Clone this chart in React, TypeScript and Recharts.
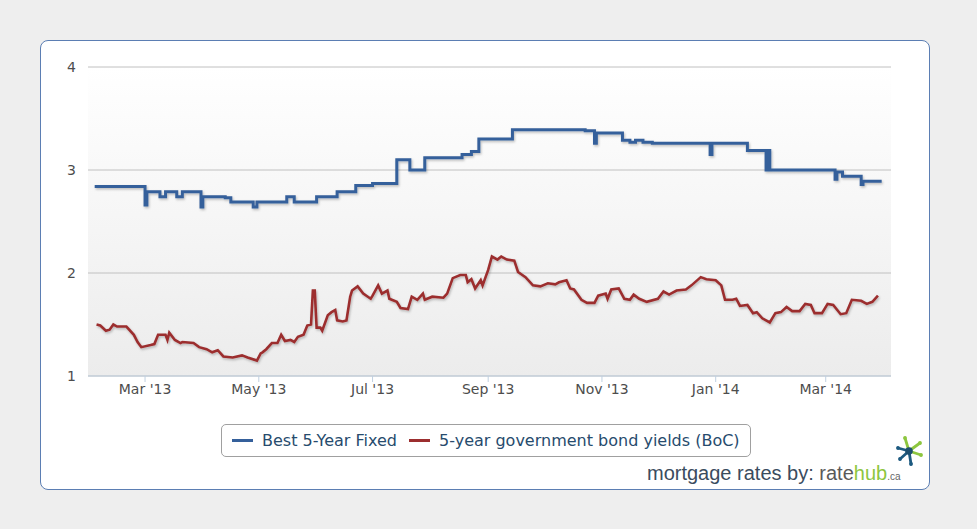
import { LineChart, Line, XAxis, YAxis, CartesianGrid } from 'recharts'

// series labels + colours
const seriesNames = ['Best 5-Year Fixed', '5-year government bond yields (BoC)']
const seriesColors = ['#35609b', '#9c2e2f']

const yTicks = [1, 2, 3, 4]
const xTickDates = ['2013-03-01', '2013-05-01', '2013-07-01', '2013-09-01', '2013-11-01', '2014-01-01', '2014-03-01']
const monthNames = ['Jan', 'Feb', 'Mar', 'Apr', 'May', 'Jun', 'Jul', 'Aug', 'Sep', 'Oct', 'Nov', 'Dec']

// best 5-year fixed rate, changes only (step line)
const bestFixed: [string, number][] = [
  ['2013-02-02', 2.84], ['2013-03-01', 2.66], ['2013-03-02', 2.79], ['2013-03-09', 2.74],
  ['2013-03-12', 2.79], ['2013-03-18', 2.74], ['2013-03-21', 2.79], ['2013-03-31', 2.64],
  ['2013-04-01', 2.74], ['2013-04-13', 2.73], ['2013-04-16', 2.69], ['2013-04-28', 2.64],
  ['2013-04-30', 2.69], ['2013-05-16', 2.74], ['2013-05-20', 2.69], ['2013-06-01', 2.74],
  ['2013-06-12', 2.79], ['2013-06-22', 2.85], ['2013-07-01', 2.87], ['2013-07-14', 3.10],
  ['2013-07-21', 3.0], ['2013-07-29', 3.12], ['2013-08-18', 3.15], ['2013-08-23', 3.18],
  ['2013-08-27', 3.30], ['2013-09-14', 3.39], ['2013-10-23', 3.38], ['2013-10-28', 3.26],
  ['2013-10-29', 3.36], ['2013-11-12', 3.29], ['2013-11-16', 3.27], ['2013-11-19', 3.29],
  ['2013-11-23', 3.27], ['2013-11-28', 3.26], ['2013-12-29', 3.15], ['2013-12-30', 3.26],
  ['2014-01-18', 3.19], ['2014-01-28', 3.0], ['2014-01-29', 3.19], ['2014-01-30', 3.0],
  ['2014-03-06', 2.91], ['2014-03-07', 2.98], ['2014-03-10', 2.94], ['2014-03-20', 2.86],
  ['2014-03-21', 2.89], ['2014-03-31', 2.89],
]

// 5-year GoC bond yields
const bondYields: [string, number][] = [
  ['2013-02-03', 1.50], ['2013-02-05', 1.49], ['2013-02-08', 1.44], ['2013-02-10', 1.45],
  ['2013-02-12', 1.50], ['2013-02-14', 1.48], ['2013-02-19', 1.48], ['2013-02-23', 1.40],
  ['2013-02-25', 1.33], ['2013-02-27', 1.28], ['2013-03-04', 1.30], ['2013-03-06', 1.31],
  ['2013-03-08', 1.40], ['2013-03-12', 1.40], ['2013-03-13', 1.35], ['2013-03-14', 1.42],
  ['2013-03-17', 1.35], ['2013-03-20', 1.32], ['2013-03-21', 1.33], ['2013-03-27', 1.32],
  ['2013-03-30', 1.28], ['2013-04-03', 1.26], ['2013-04-06', 1.23], ['2013-04-09', 1.25],
  ['2013-04-12', 1.19], ['2013-04-17', 1.18], ['2013-04-22', 1.20], ['2013-04-25', 1.18],
  ['2013-04-30', 1.15], ['2013-05-02', 1.22], ['2013-05-03', 1.23], ['2013-05-05', 1.26],
  ['2013-05-08', 1.32], ['2013-05-11', 1.32], ['2013-05-13', 1.40], ['2013-05-15', 1.34],
  ['2013-05-18', 1.35], ['2013-05-20', 1.33], ['2013-05-22', 1.38], ['2013-05-25', 1.40],
  ['2013-05-27', 1.49], ['2013-05-29', 1.50], ['2013-05-30', 1.83], ['2013-05-31', 1.83],
  ['2013-06-01', 1.47], ['2013-06-03', 1.47], ['2013-06-04', 1.44], ['2013-06-07', 1.59],
  ['2013-06-09', 1.62], ['2013-06-11', 1.64], ['2013-06-12', 1.54], ['2013-06-15', 1.53],
  ['2013-06-17', 1.54], ['2013-06-19', 1.77], ['2013-06-20', 1.83], ['2013-06-23', 1.87],
  ['2013-06-26', 1.80], ['2013-06-30', 1.75], ['2013-07-01', 1.78], ['2013-07-04', 1.88],
  ['2013-07-06', 1.80], ['2013-07-09', 1.83], ['2013-07-10', 1.75], ['2013-07-14', 1.72],
  ['2013-07-16', 1.66], ['2013-07-20', 1.65], ['2013-07-22', 1.77], ['2013-07-25', 1.74],
  ['2013-07-28', 1.80], ['2013-07-29', 1.74], ['2013-08-02', 1.77], ['2013-08-08', 1.76],
  ['2013-08-10', 1.80], ['2013-08-13', 1.95], ['2013-08-17', 1.98], ['2013-08-20', 1.98],
  ['2013-08-21', 1.91], ['2013-08-23', 1.94], ['2013-08-25', 1.85], ['2013-08-28', 1.93],
  ['2013-08-29', 1.88], ['2013-09-01', 2.03], ['2013-09-03', 2.16], ['2013-09-06', 2.13],
  ['2013-09-08', 2.16], ['2013-09-11', 2.13], ['2013-09-15', 2.12], ['2013-09-17', 2.01],
  ['2013-09-21', 1.96], ['2013-09-25', 1.88], ['2013-09-29', 1.87], ['2013-10-03', 1.90],
  ['2013-10-07', 1.89], ['2013-10-09', 1.91], ['2013-10-13', 1.93], ['2013-10-15', 1.85],
  ['2013-10-17', 1.84], ['2013-10-21', 1.74], ['2013-10-24', 1.71], ['2013-10-28', 1.71],
  ['2013-10-30', 1.78], ['2013-11-03', 1.80], ['2013-11-04', 1.75], ['2013-11-06', 1.84],
  ['2013-11-10', 1.85], ['2013-11-13', 1.75], ['2013-11-16', 1.74], ['2013-11-18', 1.79],
  ['2013-11-21', 1.75], ['2013-11-25', 1.72], ['2013-12-01', 1.75], ['2013-12-04', 1.82],
  ['2013-12-07', 1.79], ['2013-12-11', 1.83], ['2013-12-16', 1.84], ['2013-12-19', 1.88],
  ['2013-12-24', 1.96], ['2013-12-27', 1.94], ['2014-01-01', 1.93], ['2014-01-04', 1.88],
  ['2014-01-06', 1.74], ['2014-01-10', 1.74], ['2014-01-12', 1.75], ['2014-01-14', 1.68],
  ['2014-01-18', 1.69], ['2014-01-21', 1.61], ['2014-01-23', 1.62], ['2014-01-26', 1.56],
  ['2014-01-30', 1.52], ['2014-02-02', 1.61], ['2014-02-05', 1.62], ['2014-02-08', 1.67],
  ['2014-02-11', 1.63], ['2014-02-15', 1.63], ['2014-02-18', 1.70], ['2014-02-21', 1.69],
  ['2014-02-23', 1.61], ['2014-02-27', 1.61], ['2014-03-02', 1.70], ['2014-03-05', 1.69],
  ['2014-03-09', 1.60], ['2014-03-12', 1.61], ['2014-03-15', 1.74], ['2014-03-20', 1.73],
  ['2014-03-23', 1.70], ['2014-03-26', 1.72], ['2014-03-29', 1.78],
]

const toTime = (s: string) => Date.parse(s + 'T00:00:00Z')
const toPoints = (rows: [string, number][]) => rows.map(([d, v]) => ({ t: toTime(d), v }))

const fixedData = toPoints(bestFixed)
const bondData = toPoints(bondYields)
const xTicks = xTickDates.map(toTime)
const xDomain = [Date.UTC(2013, 0, 29, 10), Date.UTC(2014, 3, 5)]

const formatDate = (t: number) => {
  const d = new Date(t)
  return `${monthNames[d.getUTCMonth()]} '${String(d.getUTCFullYear()).slice(2)}`
}

const font = '"DejaVu Sans", Verdana, sans-serif'

function Logo() {
  const spokes = [
    { x: -4, y: -13, c: '#8dc63f' },
    { x: 11, y: -8, c: '#8dc63f' },
    { x: 12, y: 4, c: '#8dc63f' },
    { x: 2, y: 13, c: '#1d5a80' },
    { x: -9, y: 8, c: '#1d5a80' },
    { x: -11, y: -3, c: '#1d5a80' },
  ]
  return (
    <svg width={34} height={34} style={{ position: 'absolute', left: 892, top: 434 }}>
      <g transform="translate(17,17)">
        {spokes.map((s, i) => (
          <g key={i}>
            <line x1={0} y1={0} x2={s.x} y2={s.y} stroke={s.c} strokeWidth={2.8} strokeLinecap="round" />
            <circle cx={s.x} cy={s.y} r={1.9} fill={s.c} />
          </g>
        ))}
        <circle cx={0} cy={0} r={3.8} fill="#1d4f70" />
      </g>
    </svg>
  )
}

export default function App() {
  return (
    <div style={{ position: 'absolute', left: 0, top: 0, width: 977, height: 529, background: '#eeeeee', overflow: 'hidden', fontFamily: font }}>
      <div style={{ position: 'absolute', left: 40, top: 40, width: 890, height: 450, boxSizing: 'border-box', border: '1.5px solid #5b7eb3', borderRadius: 8, background: '#fff' }} />

      <div style={{ position: 'absolute', left: 0, top: 0 }}>
        <LineChart width={977} height={529} margin={{ top: 67, right: 86, bottom: 123, left: 0 }}>
          <defs>
            <linearGradient id="plotBg" x1="0" y1="0" x2="0" y2="1">
              <stop offset="0%" stopColor="#ffffff" />
              <stop offset="100%" stopColor="#ececec" />
            </linearGradient>
            <filter id="lineShadow" x="-5%" y="-30%" width="110%" height="160%">
              <feDropShadow dx="1" dy="1.5" stdDeviation="1" floodColor="#000" floodOpacity="0.25" />
            </filter>
          </defs>
          <CartesianGrid vertical={false} stroke="#c0c0c0" fill="url(#plotBg)" />
          <XAxis
            dataKey="t"
            type="number"
            scale="linear"
            domain={xDomain}
            ticks={xTicks}
            tickFormatter={formatDate}
            allowDataOverflow
            height={30}
            stroke="#c0d0e0"
            tickSize={6}
            tickMargin={2}
            tick={{ fill: '#4d4d4d', fontSize: 14, fontFamily: font }}
          />
          <YAxis
            domain={[1, 4]}
            ticks={yTicks}
            width={88}
            axisLine={false}
            tickLine={false}
            tickSize={0}
            tickMargin={12}
            tick={{ fill: '#4d4d4d', fontSize: 14, fontFamily: font }}
          />
          <Line
            data={fixedData}
            dataKey="v"
            name={seriesNames[0]}
            type="stepAfter"
            stroke={seriesColors[0]}
            strokeWidth={3}
            dot={false}
            filter="url(#lineShadow)"
            isAnimationActive={false}
          />
          <Line
            data={bondData}
            dataKey="v"
            name={seriesNames[1]}
            type="linear"
            stroke={seriesColors[1]}
            strokeWidth={2.6}
            dot={false}
            filter="url(#lineShadow)"
            isAnimationActive={false}
          />
        </LineChart>
      </div>

      <div style={{ position: 'absolute', left: 221, top: 424, width: 530, height: 33, boxSizing: 'border-box', border: '1px solid #a0a0a0', borderRadius: 5, background: '#fff', display: 'flex', alignItems: 'center', paddingLeft: 10 }}>
        {seriesNames.map((name, i) => (
          <div key={name} style={{ display: 'flex', alignItems: 'center', marginRight: 12 }}>
            <span style={{ display: 'inline-block', width: 21, height: 3, background: seriesColors[i], marginRight: 9 }} />
            <span style={{ fontSize: 16, color: '#274b6d', whiteSpace: 'nowrap' }}>{name}</span>
          </div>
        ))}
      </div>

      <div style={{ position: 'absolute', left: 647, top: 463, fontFamily: '"Liberation Sans", Arial, sans-serif', fontSize: 20, lineHeight: '20px', whiteSpace: 'nowrap', color: '#3a4c5e' }}>
        mortgage rates by: <span style={{ color: '#5a5a5a' }}>rate</span>
        <span style={{ color: '#8dc63f' }}>hub</span>
        <span style={{ color: '#666', fontSize: 10 }}>.ca</span>
      </div>
      <Logo />
    </div>
  )
}
